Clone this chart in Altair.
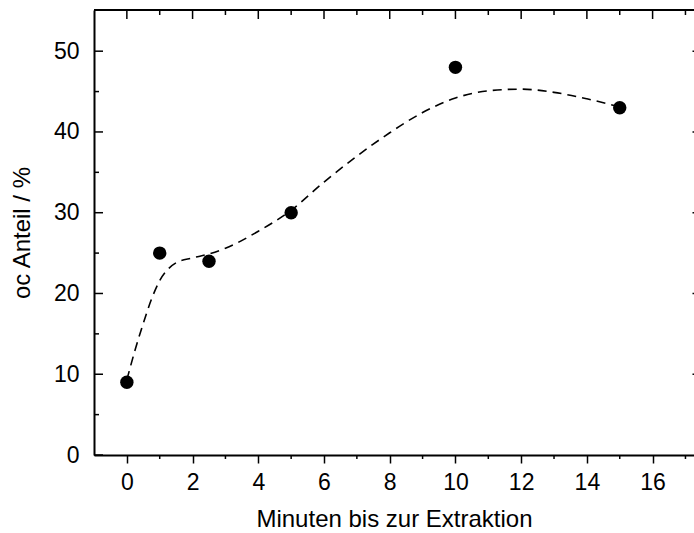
import altair as alt
import pandas as pd

# measured shares
minutes = [0, 1, 2.5, 5, 10, 15]
share = [9, 25, 24, 30, 48, 43]

# smoothed trend curve
fit_minutes = [0, 0.25, 0.5, 0.75, 1, 1.25, 1.5, 2, 2.5, 3, 4, 5, 6, 7, 8, 9, 10, 11, 12, 13, 14, 15]
fit_share = [9.3, 13.0, 16.3, 19.3, 21.6, 23.0, 23.8, 24.4, 24.9, 25.6, 27.7, 30.3,
             33.8, 37.0, 39.9, 42.4, 44.2, 45.1, 45.3, 44.9, 44.1, 43.1]

# tick positions
x_major = [0, 2, 4, 6, 8, 10, 12, 14, 16]
x_minor = [1, 3, 5, 7, 9, 11, 13, 15, 17]
y_major = [0, 10, 20, 30, 40, 50]
y_minor = [5, 15, 25, 35, 45]

W, H = 600, 445
FONT = "Liberation Sans"

xs = alt.Scale(domain=[-1, 17.26], nice=False, zero=False)
ys = alt.Scale(domain=[0, 55.1], nice=False, zero=False)

x_axis = alt.Axis(
    values=x_major, title="Minuten bis zur Extraktion", grid=False,
    tickSize=8, tickWidth=1.5, tickColor="black",
    domainWidth=2, domainColor="black",
    labelFont=FONT, labelFontSize=23, labelColor="black", labelPadding=8,
    titleFont=FONT, titleFontSize=24, titleFontWeight="normal", titleColor="black",
    titlePadding=13,
)
y_axis = alt.Axis(
    values=y_major, title="oc Anteil / %", grid=False,
    ticks=False, tickSize=0,
    domainWidth=2, domainColor="black",
    labelFont=FONT, labelFontSize=23, labelColor="black", labelPadding=15,
    titleFont=FONT, titleFontSize=24, titleFontWeight="normal", titleColor="black",
    titlePadding=19,
)

def X(field="x"):
    return alt.X(f"{field}:Q", scale=xs, axis=x_axis)

def Y(field="y"):
    return alt.Y(f"{field}:Q", scale=ys, axis=y_axis)

pts = pd.DataFrame({"x": minutes, "y": share})
fit = pd.DataFrame({"x": fit_minutes, "y": fit_share})

curve = alt.Chart(fit).mark_line(
    color="black", strokeWidth=1.6, strokeDash=[9, 6], interpolate="monotone"
).encode(x=X(), y=Y())

dots = alt.Chart(pts).mark_circle(size=180, color="black", opacity=1).encode(x=X(), y=Y())

tick_style = dict(color="black", strokeWidth=1.5)

top_line = alt.Chart(pd.DataFrame({"x": [0]})).mark_rule(color="black", strokeWidth=2).encode(
    x=alt.value(0), x2=alt.value(W), y=alt.value(0)
)

top_major = alt.Chart(pd.DataFrame({"x": x_major})).mark_rule(**tick_style).encode(
    x=X(), y=alt.value(0), y2=alt.value(9)
)
top_minor = alt.Chart(pd.DataFrame({"x": x_minor})).mark_rule(**tick_style).encode(
    x=X(), y=alt.value(0), y2=alt.value(5)
)
bottom_minor = alt.Chart(pd.DataFrame({"x": x_minor})).mark_rule(**tick_style).encode(
    x=X(), y=alt.value(H), y2=alt.value(H + 4)
)
left_major = alt.Chart(pd.DataFrame({"y": y_major})).mark_rule(**tick_style).encode(
    y=Y(), x=alt.value(0), x2=alt.value(9)
)
left_minor = alt.Chart(pd.DataFrame({"y": y_minor})).mark_rule(**tick_style).encode(
    y=Y(), x=alt.value(0), x2=alt.value(5)
)
right_major = alt.Chart(pd.DataFrame({"y": y_major[1:]})).mark_rule(**tick_style).encode(
    y=Y(), x=alt.value(W - 1.5), x2=alt.value(W)
)

chart = alt.layer(
    top_line, top_major, top_minor, bottom_minor, left_major, left_minor, right_major,
    curve, dots,
).properties(
    width=W, height=H,
    autosize=alt.AutoSizeParams(type="none"),
    padding={"left": 94, "top": 10, "right": 0, "bottom": 78},
).configure_view(stroke=None).configure(background="white")

chart.save("out.html", embed_options={"renderer": "svg", "actions": False})
